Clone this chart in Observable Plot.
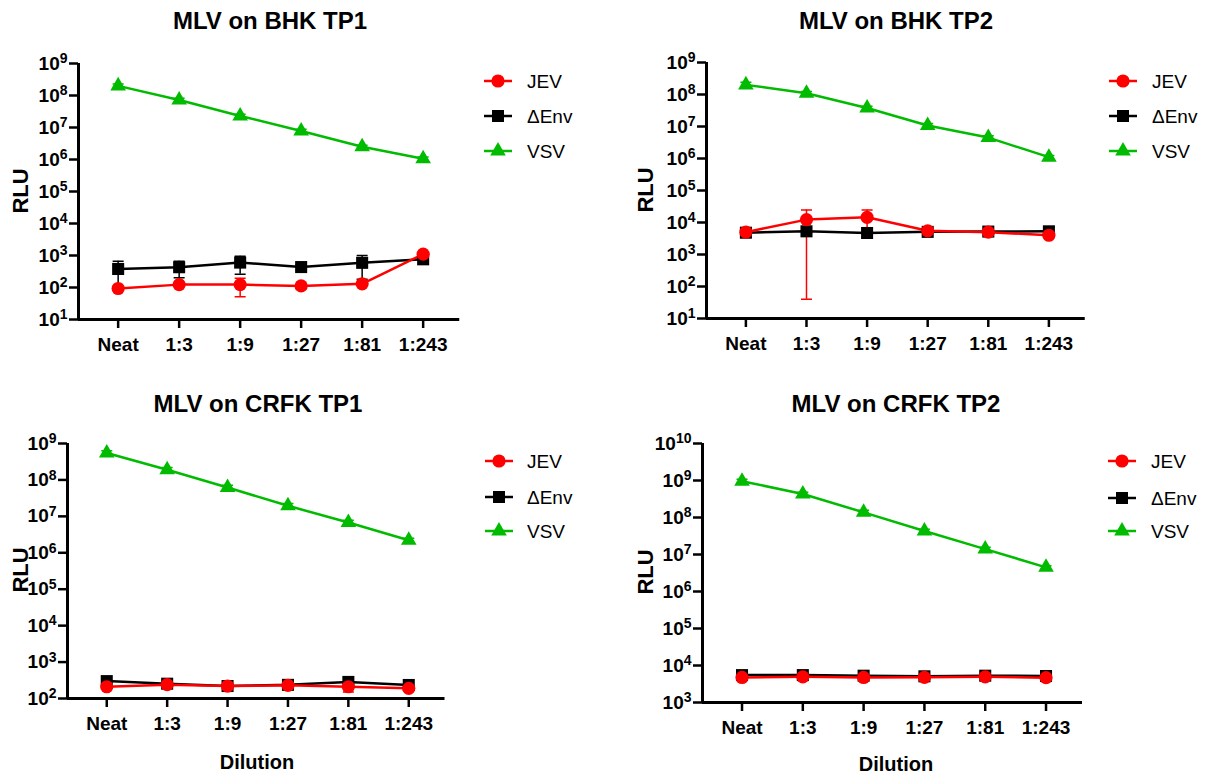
<!DOCTYPE html>
<html><head><meta charset="utf-8">
<script src="https://cdn.jsdelivr.net/npm/d3@7"></script>
<script src="https://cdn.jsdelivr.net/npm/@observablehq/plot@0.6"></script>
<style>
body{margin:0;background:#fff;font-family:"Liberation Sans",Arial,sans-serif;}
#root{position:relative;width:1209px;height:776px;overflow:hidden;background:#fff;}
.abs{position:absolute;white-space:nowrap;line-height:1;}
.title{font-weight:bold;font-size:24px;transform:translate(-50%,-50%);}
.ylab{font-weight:bold;font-size:22px;transform:translate(-50%,-50%) rotate(-90deg);}
.xlab{font-weight:bold;font-size:20px;transform:translate(-50%,-50%);}
.legtext{font-size:19px;transform:translate(0,-50%);}
</style></head><body><div id="root"></div>
<script>
const categories = ["Neat","1:3","1:9","1:27","1:81","1:243"];
const seriesNames = ["JEV","\u0394Env","VSV"];
const seriesColors = ["#ff0000","#000000","#00bb00"];
const seriesSymbols = ["circle","square","triangle"];

// MLV on BHK TP1
const bhk1JEV = [93,123,123,112,130,1100];
const bhk1JEVsd = [0,0,72,20,0,0];
const bhk1Env = [380,430,600,435,590,760];
const bhk1Envsd = [280,230,340,90,410,0];
const bhk1VSV = [2.0e8,7.2e7,2.3e7,7.8e6,2.5e6,1.05e6];
const bhk1VSVsd = [3e7,1e7,3e6,1e6,3e5,1.5e5];

// MLV on BHK TP2
const bhk2JEV = [5000,12300,14500,5500,5000,4000];
const bhk2JEVsd = [0,12260,10000,0,0,0];
const bhk2Env = [4800,5300,4700,5100,5200,5300];
const bhk2Envsd = [0,0,1300,0,0,0];
const bhk2VSV = [2.0e8,1.1e8,3.8e7,1.08e7,4.5e6,1.1e6];
const bhk2VSVsd = [4e7,1.5e7,5e6,1.5e6,6e5,1.5e5];

// MLV on CRFK TP1
const crfk1JEV = [210,240,220,230,210,190];
const crfk1JEVsd = [0,0,0,0,60,0];
const crfk1Env = [300,255,220,237,285,235];
const crfk1Envsd = [0,0,0,0,0,0];
const crfk1VSV = [5.5e8,1.9e8,6.2e7,1.95e7,6.8e6,2.2e6];
const crfk1VSVsd = [8e7,3e7,9e6,3e6,1e6,3e5];

// MLV on CRFK TP2
const crfk2JEV = [4750,4950,4750,4800,4950,4700];
const crfk2JEVsd = [0,0,0,0,0,0];
const crfk2Env = [5500,5500,5300,5100,5300,5200];
const crfk2Envsd = [0,0,0,0,0,0];
const crfk2VSV = [9.6e8,4.3e8,1.38e8,4.3e7,1.4e7,4.5e6];
const crfk2VSVsd = [1.2e8,5e7,1.8e7,5e6,1.8e6,5e5];

const panelTitles = ["MLV on BHK TP1","MLV on BHK TP2","MLV on CRFK TP1","MLV on CRFK TP2"];
const yAxisLabel = "RLU";
const xAxisLabel = "Dilution";

const panels = [
  {title: panelTitles[0], vals:[bhk1JEV,bhk1Env,bhk1VSV], sds:[bhk1JEVsd,bhk1Envsd,bhk1VSVsd], yDomain:[1e1,1e9],
   left:0, top:40, axisX:78, axisTop:63, axisBottom:319, step:61, titlePos:[270,21], ylabPos:[21,191], xlab:null, leg:[484,527,[81,116,151]]},
  {title: panelTitles[1], vals:[bhk2JEV,bhk2Env,bhk2VSV], sds:[bhk2JEVsd,bhk2Envsd,bhk2VSVsd], yDomain:[1e1,1e9],
   left:628, top:40, axisX:706, axisTop:62, axisBottom:318, step:60.6, titlePos:[896,21], ylabPos:[646,190], xlab:null, leg:[1109,1152,[81,116,151]]},
  {title: panelTitles[2], vals:[crfk1JEV,crfk1Env,crfk1VSV], sds:[crfk1JEVsd,crfk1Envsd,crfk1VSVsd], yDomain:[1e2,1e9],
   left:0, top:420, axisX:67, axisTop:443, axisBottom:698, step:60.4, titlePos:[258,404], ylabPos:[21,570], xlab:[257,762], leg:[485,527,[461,497,531]]},
  {title: panelTitles[3], vals:[crfk2JEV,crfk2Env,crfk2VSV], sds:[crfk2JEVsd,crfk2Envsd,crfk2VSVsd], yDomain:[1e3,1e10],
   left:624, top:420, axisX:702, axisTop:443, axisBottom:702, step:60.8, titlePos:[896,404], ylabPos:[646,572], xlab:[896,764], leg:[1108,1151,[461,498,531]]}
];

const xDomain = [-0.65, 5.6];
const root = document.getElementById("root");

const capSymbol = {draw(ctx, size){ const r = Math.sqrt(size/Math.PI); ctx.moveTo(-r,0); ctx.lineTo(r,0); ctx.closePath(); }};
const markerR = {circle: 6.6, square: 6.8, triangle: 5.8};

function addDiv(cls, text, x, y){
  const d = document.createElement("div");
  d.className = "abs " + cls;
  d.textContent = text;
  d.style.left = x + "px"; d.style.top = y + "px";
  root.appendChild(d);
  return d;
}

panels.forEach(p => {
  // rows: draw VSV first, then ΔEnv, then JEV on top
  const rows = [];
  [2,1,0].forEach(s => {
    p.vals[s].forEach((v, i) => {
      const sd = p.sds[s][i];
      rows.push({i, series: seriesNames[s], sym: seriesSymbols[s], v, sd, lo: Math.max(v - sd, p.yDomain[0]*1.02), hi: v + sd});
    });
  });
  const errRows = rows.filter(d => d.sd > 0);
  const frameW = (xDomain[1]-xDomain[0]) * p.step;
  const marginLeft = p.axisX - p.left;
  const marginTop = p.axisTop - p.top;
  const height = 340;
  const marginBottom = p.top + height - p.axisBottom;
  const width = marginLeft + frameW + 12;
  const exps = d3.range(Math.round(Math.log10(p.yDomain[0])), Math.round(Math.log10(p.yDomain[1])) + 1);
  const yTicks = exps.map(e => Math.pow(10, e));

  const chart = Plot.plot({
    width, height, marginLeft, marginTop, marginBottom, marginRight: 12,
    style: {fontFamily: "'Liberation Sans', Arial, sans-serif", background: "transparent", overflow: "visible"},
    x: {type: "linear", domain: xDomain, axis: null},
    y: {type: "log", domain: p.yDomain, axis: null},
    color: {domain: seriesNames, range: seriesColors},
    symbol: {domain: seriesNames, range: seriesSymbols},
    r: {type: "identity"},
    marks: [
      Plot.axisY({ticks: yTicks, tickFormat: d => "10^" + Math.round(Math.log10(d)), tickSize: 9, tickPadding: 2,
        fontSize: 19, fontWeight: "bold", strokeWidth: 2.5, label: null, anchor: "left"}),
      Plot.axisX({ticks: categories.map((_, i) => i), tickFormat: i => categories[i], tickSize: 9, tickPadding: 9,
        fontSize: 19, fontWeight: "bold", strokeWidth: 2.5, label: null, anchor: "bottom"}),
      Plot.ruleY([p.yDomain[0]], {stroke: "#000", strokeWidth: 3}),
      Plot.ruleX([xDomain[0]], {stroke: "#000", strokeWidth: 3}),
      Plot.line(rows, {x: "i", y: "v", stroke: "series", z: "series", strokeWidth: 2.5}),
      Plot.ruleX(errRows, {x: "i", y1: "lo", y2: "hi", stroke: "series", strokeWidth: 1.5}),
      Plot.dot(errRows, {x: "i", y: "hi", symbol: () => capSymbol, r: 5.5, stroke: "series", strokeWidth: 1.5, fill: "none"}),
      Plot.dot(errRows, {x: "i", y: "lo", symbol: () => capSymbol, r: 5.5, stroke: "series", strokeWidth: 1.5, fill: "none"}),
      Plot.dot(rows, {x: "i", y: "v", symbol: "series", fill: "series", r: d => markerR[d.sym], stroke: "none"})
    ]
  });
  chart.style.position = "absolute";
  chart.style.left = p.left + "px";
  chart.style.top = p.top + "px";
  // superscript exponents on y tick labels
  chart.querySelectorAll('g[aria-label="y-axis tick label"] text').forEach(t => {
    const m = /^10\^(-?\d+)$/.exec(t.textContent);
    if (!m) return;
    t.textContent = "";
    const ns = "http://www.w3.org/2000/svg";
    const base = document.createElementNS(ns, "tspan"); base.textContent = "10";
    const sup = document.createElementNS(ns, "tspan"); sup.textContent = m[1];
    sup.setAttribute("dy", "-0.45em"); sup.setAttribute("font-size", "14");
    t.appendChild(base); t.appendChild(sup);
  });
  root.appendChild(chart);

  addDiv("title", p.title, p.titlePos[0], p.titlePos[1]);
  addDiv("ylab", yAxisLabel, p.ylabPos[0], p.ylabPos[1]);
  if (p.xlab) addDiv("xlab", xAxisLabel, p.xlab[0], p.xlab[1]);

  // legend
  seriesNames.forEach((name, s) => {
    const y = p.leg[2][s];
    const svg = d3.create("svg").attr("width", 30).attr("height", 16)
      .style("position", "absolute").style("left", (p.leg[0]-1) + "px").style("top", (y - 8) + "px").style("overflow", "visible");
    svg.append("line").attr("x1", 1).attr("x2", 29).attr("y1", 8).attr("y2", 8).attr("stroke", seriesColors[s]).attr("stroke-width", 2.5);
    const symType = {circle: d3.symbolCircle, square: d3.symbolSquare, triangle: d3.symbolTriangle}[seriesSymbols[s]];
    const rr = markerR[seriesSymbols[s]];
    svg.append("path").attr("transform", "translate(15,8)").attr("d", d3.symbol(symType, Math.PI*rr*rr)()).attr("fill", seriesColors[s]);
    root.appendChild(svg.node());
    addDiv("legtext", name, p.leg[1], y);
  });
});
</script></body></html>
